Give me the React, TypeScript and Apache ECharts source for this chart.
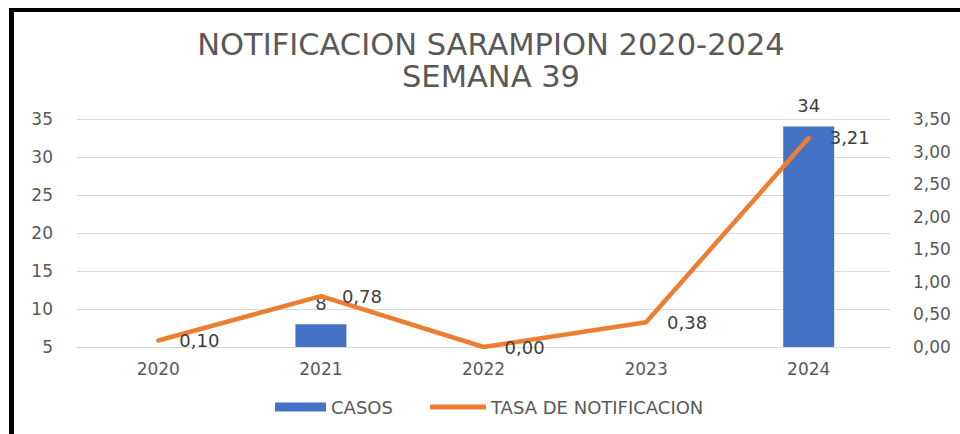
import React, { useEffect, useRef } from "react";
import * as echarts from "echarts";

const categories = ["2020", "2021", "2022", "2023", "2024"];
const casos = [1, 8, 0, 4, 34];
const tasa = [0.1, 0.78, 0.0, 0.38, 3.21];
const leftTicks = { min: 5, max: 35, interval: 5 };
const rightTicks = { min: 0, max: 3.5, interval: 0.5 };

const FONT = "'DejaVu Sans', 'Open Sans', sans-serif";
const fmt = (v: number) => v.toFixed(2).replace(".", ",");

export default function App() {
  const ref = useRef<HTMLDivElement>(null);
  useEffect(() => {
    if (!ref.current) return;
    const chart = echarts.init(ref.current, null, { renderer: "svg" });
    chart.setOption({
      animation: false,
      backgroundColor: "#ffffff",
      title: {
        text: "NOTIFICACION SARAMPION 2020-2024\nSEMANA 39",
        left: 491,
        textAlign: "center",
        top: 28,
        padding: 0,
        textStyle: {
          fontFamily: FONT,
          fontSize: 30.5,
          fontWeight: "normal",
          color: "#595959",
          lineHeight: 32,
        },
      },
      legend: [
        {
          left: 275,
          top: 398,
          padding: 0,
          itemWidth: 51,
          itemHeight: 9,
          textStyle: { fontFamily: FONT, fontSize: 18, color: "#595959" },
          data: [{ name: "CASOS", icon: "rect" }],
        },
        {
          left: 430,
          top: 398,
          padding: 0,
          itemWidth: 56,
          itemHeight: 5,
          textStyle: { fontFamily: FONT, fontSize: 18, color: "#595959" },
          data: [{ name: "TASA DE NOTIFICACION", icon: "roundRect", itemStyle: { color: "#ED7D31" } }],
        },
      ],
      grid: { left: 77, right: 70, top: 119, bottom: 87 },
      xAxis: {
        type: "category",
        data: categories,
        axisLine: { lineStyle: { color: "#d9d9d9", width: 1 } },
        axisTick: { show: false },
        axisLabel: {
          fontFamily: FONT,
          fontSize: 17,
          color: "#595959",
          margin: 13,
        },
      },
      yAxis: [
        {
          type: "value",
          min: leftTicks.min,
          max: leftTicks.max,
          interval: leftTicks.interval,
          axisLine: { show: false },
          axisTick: { show: false },
          splitLine: { lineStyle: { color: "#d9d9d9", width: 1 } },
          axisLabel: {
            fontFamily: FONT,
            fontSize: 17,
            color: "#595959",
            margin: 24,
          },
        },
        {
          type: "value",
          min: rightTicks.min,
          max: rightTicks.max,
          interval: rightTicks.interval,
          axisLine: { show: false },
          axisTick: { show: false },
          splitLine: { show: false },
          axisLabel: {
            fontFamily: FONT,
            fontSize: 17,
            color: "#595959",
            margin: 23,
            formatter: (v: number) => fmt(v),
          },
        },
      ],
      series: [
        {
          name: "CASOS",
          type: "bar",
          yAxisIndex: 0,
          data: casos,
          barWidth: 51,
          clip: true,
          itemStyle: { color: "#4472C4" },
          label: {
            show: true,
            position: "top",
            distance: 12,
            fontFamily: FONT,
            fontSize: 18,
            color: "#404040",
            formatter: (p: any) => (p.value >= leftTicks.min ? String(p.value) : ""),
          },
          z: 1,
        },
        {
          name: "TASA DE NOTIFICACION",
          type: "line",
          yAxisIndex: 1,
          data: tasa,
          symbol: "circle",
          symbolSize: 0,
          showSymbol: true,
          lineStyle: { color: "#ED7D31", width: 4.5, cap: "round", join: "round" },
          itemStyle: { color: "#ED7D31" },
          label: {
            show: true,
            position: "right",
            distance: 21,
            fontFamily: FONT,
            fontSize: 18,
            color: "#404040",
            formatter: (p: any) => fmt(p.value),
          },
          z: 3,
        },
      ],
      graphic: [
        { type: "rect", shape: { x: 10, y: 8, width: 950, height: 4 }, style: { fill: "#000" }, silent: true },
        { type: "rect", shape: { x: 9, y: 8, width: 5, height: 426 }, style: { fill: "#000" }, silent: true },
      ],
    });
    return () => chart.dispose();
  }, []);
  return (
    <div
      ref={ref}
      style={{ position: "absolute", left: 0, top: 0, width: 960, height: 434 }}
    />
  );
}
